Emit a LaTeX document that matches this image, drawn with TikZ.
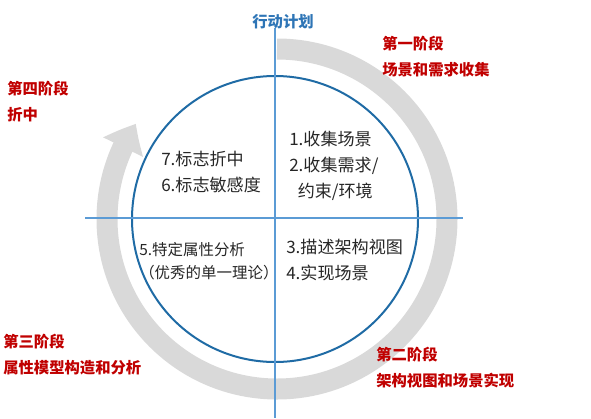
\documentclass[tikz,border=0pt]{standalone}
\usepackage{fontspec}
\setmainfont{Noto Sans CJK SC}
\usetikzlibrary{arrows.meta,bending}

\definecolor{ringgray}{RGB}{217,217,217}
\definecolor{circblue}{RGB}{31,107,165}
\definecolor{axisblue}{RGB}{91,155,213}
\definecolor{phasered}{RGB}{192,0,0}
\definecolor{titleblue}{RGB}{46,117,182}
\definecolor{itemblack}{RGB}{38,38,38}

\tikzset{
  phase/.style={anchor=west,align=left,inner sep=0pt,text=phasered,
    font=\fontsize{11.5}{19.5}\selectfont\bfseries},
  item/.style={anchor=west,align=left,inner sep=0pt,text=itemblack,
    font=\fontsize{12.8}{19.5}\selectfont},
  itemsmall/.style={item,font=\fontsize{11.6}{17.5}\selectfont},
}

\begin{document}
\begin{tikzpicture}[x=0.75pt,y=-0.75pt]
\useasboundingbox (0,0) rectangle (591,418);
\coordinate (O) at (275,219);
\coordinate (R) at (277,219);
\coordinate (top) at (275,28);
\coordinate (bot) at (275,418);
\coordinate (lft) at (85,218);
\coordinate (rgt) at (463,218);

% gray cycle arrow
\draw[ringgray,line width=15.75pt,-{Triangle[length=20pt,width=32pt,bend]}]
  (R) ++(-90:170) arc[start angle=-90,end angle=214,radius=170];

\draw[circblue,line width=1.5pt] (O) circle[radius=143];
\draw[axisblue,line width=1.5pt] (top) -- (bot);
\draw[axisblue,line width=1.5pt] (lft) -- (rgt);

\node[text=titleblue,inner sep=0pt,font=\fontsize{11.5}{14}\selectfont\bfseries] (title) at (283,22) {行动计划};

\node[phase] (p1) at (382,57) {第一阶段\\场景和需求收集};
\node[phase] (p2) at (376,368) {第二阶段\\架构视图和场景实现};
\node[phase] (p3) at (3,355) {第三阶段\\属性模型构造和分析};
\node[phase] (p4) at (7,102) {第四阶段\\折中};

\node[item] (q1) at (289,166) {1.收集场景\\2.收集需求/\\\hspace{0.5em}约束/环境};
\node[item] (q2) at (286,260) {3.描述架构视图\\4.实现场景};
\node[item] (q3) at (161,172.5) {7.标志折中\\6.标志敏感度};
\node[itemsmall] (q4) at (139,261.5) {5.特定属性分析\\（优秀的单一理论）};
\end{tikzpicture}
\end{document}
